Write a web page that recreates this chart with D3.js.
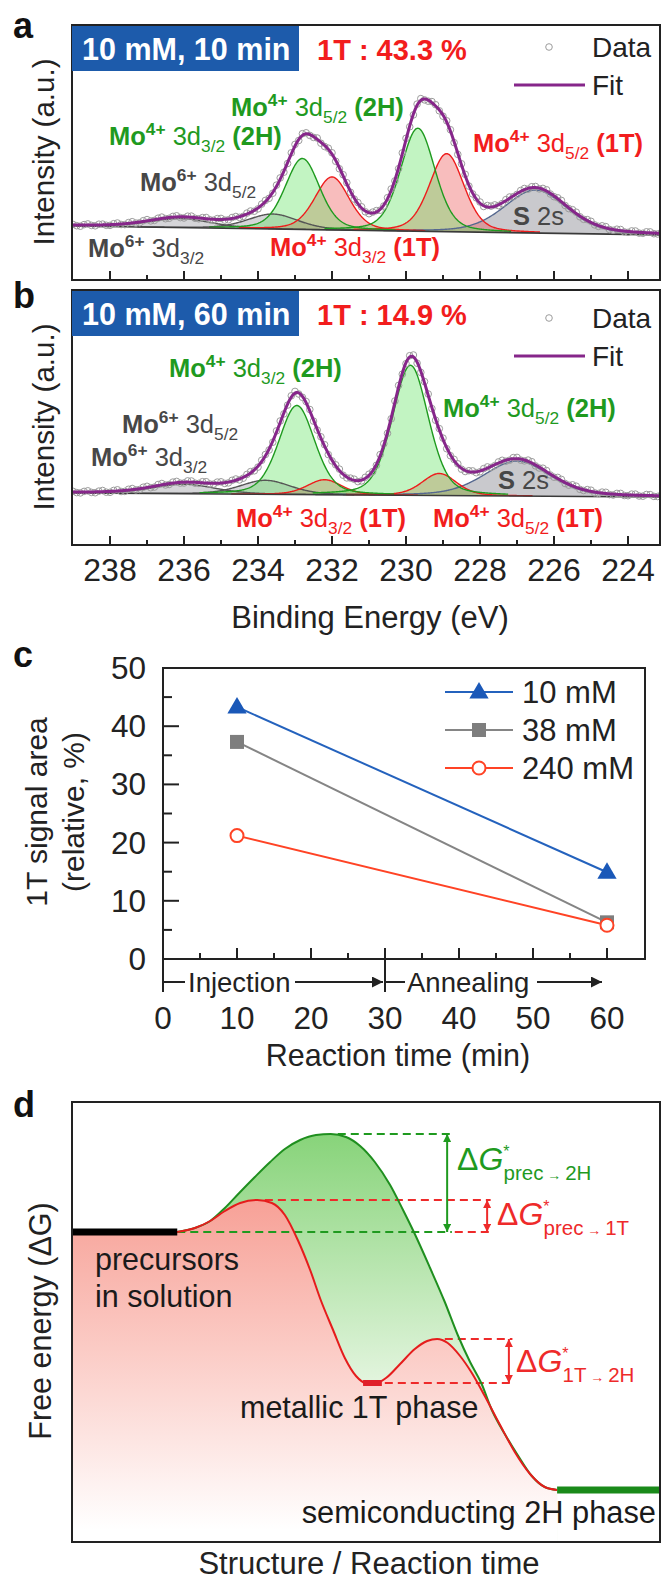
<!DOCTYPE html>
<html>
<head>
<meta charset="utf-8">
<script src="https://cdn.jsdelivr.net/npm/d3@7"></script>
<style>
  body { margin: 0; background: #fff; }
  svg { display: block; }
  text { font-family: "Liberation Sans", Arial, Helvetica, sans-serif; }
</style>
</head>
<body>
<svg id="fig" width="662" height="1580"></svg>
<script>
// ---------- XPS Mo 3d / S 2s spectra (panels a, b) ----------
const energyTicks = [238, 236, 234, 232, 230, 228, 226, 224];
const energyMinorTicks = [237, 235, 233, 231, 229, 227, 225];
const scanStart = 239.0;   // eV, first channel
const scanStep = 0.1;      // eV per channel (decreasing binding energy)

const peakPhase = ["ox", "ox", "2H", "1T", "2H", "1T", "S"];

// 10 mM, 10 min
const peakCenterA = [236.1, 233.6, 232.8, 232.0, 229.68, 228.9, 226.5];
const peakHeightA = [9, 15, 71, 53, 103, 78, 43];
const peakFwhmA   = [2.0, 1.6, 1.1, 1.1, 1.1, 1.1, 2.0];
const backgroundA = [54, 45];          // at 239 eV and 223 eV
const intensityA = [
  55.6,54.3,53.8,55.4,56.1,54.6,54.2,55.8,55.9,54.7,
  54.6,56.3,57.0,55.5,55.4,57.4,58.3,56.9,57.2,59.3,
  60.4,59.1,59.6,61.8,62.9,61.3,61.7,63.6,64.2,62.4,
  62.0,63.8,63.9,61.7,61.2,62.4,62.5,60.2,59.8,61.4,
  61.6,59.9,60.2,62.5,63.5,62.6,63.6,66.9,69.0,68.8,
  71.1,75.9,79.6,81.7,86.8,94.9,102.1,107.8,116.5,127.2,
  135.6,139.5,146.3,147.2,144.6,142.6,142.0,136.8,133.5,131.8,
  127.2,118.7,111.2,105.3,97.3,87.7,80.9,77.4,73.2,68.2,
  66.3,67.9,69.4,69.8,74.0,82.3,91.0,99.1,111.3,127.1,
  141.7,153.2,165.1,175.9,181.4,180.1,178.8,178.4,175.3,169.2,
  163.8,159.2,150.3,137.4,125.6,116.2,105.7,93.9,86.1,82.1,
  78.0,73.5,74.5,73.9,75.1,74.4,76.4,80.4,83.0,83.3,
  85.6,89.5,91.5,90.8,93.3,93.5,91.1,91.6,90.2,86.0,
  83.3,82.2,79.6,74.5,71.4,70.3,67.8,63.2,60.7,60.4,
  58.7,55.1,53.6,54.2,53.4,50.5,49.7,50.8,50.5,48.1,
  47.6,49.1,49.0,46.9,46.7,48.2,48.1,46.3,46.0,47.5,
  47.4];

// 10 mM, 60 min
const peakCenterB = [236.0, 233.8, 232.95, 232.2, 229.88, 229.1, 227.0];
const peakHeightB = [9.5, 14, 89, 15, 130, 22, 35];
const peakFwhmB   = [2.0, 1.6, 1.15, 1.1, 1.15, 1.1, 2.1];
const backgroundB = [52, 48];
const intensityB = [
  53.7,52.4,52.1,53.6,54.2,52.6,52.3,53.9,54.5,52.8,
  52.7,54.6,55.2,53.5,53.6,55.7,56.5,55.1,55.5,57.8,
  58.7,57.3,57.9,60.5,61.5,60.0,60.5,62.9,63.6,61.9,
  62.0,64.1,64.0,61.8,61.6,63.3,63.3,61.0,60.9,62.9,
  63.2,61.6,62.1,64.7,66.0,65.1,66.8,70.6,73.4,74.2,
  77.9,84.7,90.5,95.0,102.8,114.1,124.0,131.1,139.9,149.2,
  153.6,151.0,147.7,143.5,135.5,123.9,114.9,108.2,100.3,90.4,
  84.1,80.2,75.9,69.8,67.1,66.9,65.8,63.4,64.1,67.7,
  70.8,73.4,79.7,90.4,101.3,111.7,126.2,144.0,159.6,170.8,
  181.3,189.3,190.0,181.8,172.6,163.4,151.0,136.4,124.8,116.4,
  106.9,96.3,89.3,85.6,81.2,75.8,73.5,74.3,74.1,72.3,
  73.2,76.4,78.1,77.6,79.4,83.1,84.7,83.8,84.8,87.4,
  87.6,84.9,84.1,84.9,83.3,79.1,77.0,76.8,74.4,70.0,
  67.8,67.6,65.6,61.5,59.8,60.2,58.8,55.6,54.5,55.4,
  54.8,52.1,51.5,52.9,52.7,50.4,50.0,51.6,51.6,49.5,
  49.3,50.9,50.9,49.0,48.8,50.5,50.4,48.6,48.5,50.1,
  50.0];

// ---------- panel c ----------
const reactionTime = [10, 60];
const seriesNames = ["10 mM", "38 mM", "240 mM"];
const area10mM  = [43.3, 14.9];
const area38mM  = [37.3, 6.3];
const area240mM = [21.2, 5.8];
const timeTicks = [0, 10, 20, 30, 40, 50, 60];
const areaTicks = [0, 10, 20, 30, 40, 50];

// ---------- panel d : free-energy profile (reaction coordinate, ΔG) ----------
const coord1T = [17.86,20.9,23.5,26.0,28.6,31.5,34.0,36.2,38.4,40.5,42.3,44.4,46.4,48.3,50.0,51.7,53.4,55.8,58.3,60.4,62.1,63.9,66.0,68.0,70.2,72.8,75.3,77.9,80.4,82.5];
const energy1T = [0,0.04,0.11,0.21,0.29,0.32,0.29,0.17,-0.08,-0.38,-0.68,-0.98,-1.26,-1.44,-1.51,-1.51,-1.46,-1.32,-1.17,-1.09,-1.07,-1.11,-1.24,-1.41,-1.64,-1.93,-2.20,-2.42,-2.55,-2.58];
const coord2H = [17.86,20.9,23.5,26.0,28.6,31.1,33.7,36.2,38.8,41.5,44.0,46.6,49.0,51.5,54.1,56.3,58.3,60.9,63.4,65.6,67.7,69.6,71.4,73.6,75.9,78.2,80.4,82.5];
const energy2H = [0,0.04,0.11,0.24,0.40,0.55,0.70,0.83,0.92,0.97,0.98,0.95,0.86,0.70,0.47,0.22,-0.02,-0.36,-0.70,-1.03,-1.30,-1.51,-1.78,-2.02,-2.24,-2.44,-2.55,-2.58];
const levelPrecursor = 0, levelTS2H = 0.98, levelTS1T = 0.32, level1T = -1.51, levelTS1T2H = -1.07, level2H = -2.58;

const svg = d3.select("#fig");
const defs = svg.append("defs");
const INK = "#222";

function panelLetter(ch, x, y) {
  svg.append("text").attr("x", x).attr("y", y).attr("font-size", 36)
    .attr("font-weight", "bold").attr("fill", "#111").text(ch);
}

// text made of runs: b = bold, r = regular, sup/bsup = superscript, sub = subscript
function richText(g, x, y, runs, color, size) {
  const t = g.append("text").attr("x", x).attr("y", y).attr("fill", color).attr("font-size", size);
  let shift = 0;
  runs.forEach(([s, kind]) => {
    const sp = t.append("tspan").text(s);
    let target = 0;
    if (kind === "sup" || kind === "bsup") { target = -Math.round(size * 0.4); sp.attr("font-size", size * 0.68); }
    if (kind === "sub") { target = Math.round(size * 0.28); sp.attr("font-size", size * 0.68); }
    if (kind === "b" || kind === "bsup") sp.attr("font-weight", "bold");
    if (target !== shift) { sp.attr("dy", target - shift); shift = target; }
  });
  return t;
}

const phaseStyle = {
  ox: { fill: "rgba(105,105,115,0.28)", stroke: "#555" },
  S:  { fill: "rgba(135,135,145,0.45)", stroke: "#56688f" },
  "1T": { fill: "rgba(238,90,90,0.40)", stroke: "#ee1c1c" },
  "2H": { fill: "rgba(95,225,95,0.38)", stroke: "#1f9a1f" }
};

function pseudoVoigt(E, c, h, w) {
  const d = E - c, s = w / 2.3548;
  return h * (0.7 * Math.exp(-d * d / (2 * s * s)) + 0.3 / (1 + 4 * d * d / (w * w)));
}

function xpsPanel(cfg) {
  const { id, top, bottom, centers, heights, fwhms, bg, counts } = cfg;
  const left = 72, right = 660;
  const x = d3.scaleLinear().domain([239, 223]).range([73, 665]);
  const y = d3.scaleLinear().domain([0, 255]).range([bottom, top]);
  const g = svg.append("g");
  defs.append("clipPath").attr("id", "clip" + id).append("rect")
    .attr("x", left).attr("y", top).attr("width", right - left).attr("height", bottom - top);
  const plot = g.append("g").attr("clip-path", `url(#clip${id})`);
  const bgAt = E => bg[0] + (bg[1] - bg[0]) * (239 - E) / 16;
  const grid = d3.range(0, 801).map(i => 239 - i * 0.02);

  const order = ["ox", "S", "1T", "2H"];
  const comps = centers.map((c, i) => ({ c, h: heights[i], w: fwhms[i], phase: peakPhase[i] }))
    .sort((a, b) => order.indexOf(a.phase) - order.indexOf(b.phase));
  const area = d3.area().x(d => x(d.E)).y0(d => y(bgAt(d.E))).y1(d => y(bgAt(d.E) + d.v));
  const line = d3.line().x(d => x(d.E)).y(d => y(bgAt(d.E) + d.v));
  comps.forEach(p => {
    const pts = grid.filter(E => Math.abs(E - p.c) <= 2.3 * p.w).map(E => ({ E, v: pseudoVoigt(E, p.c, p.h, p.w) }));
    p.pts = pts;
    plot.append("path").attr("d", area(pts)).attr("fill", phaseStyle[p.phase].fill);
  });
  comps.forEach(p => {
    plot.append("path").attr("d", line(p.pts)).attr("fill", "none")
      .attr("stroke", phaseStyle[p.phase].stroke).attr("stroke-width", 1.4);
  });
  // background
  plot.append("line").attr("x1", x(239)).attr("x2", x(223)).attr("y1", y(bg[0])).attr("y2", y(bg[1]))
    .attr("stroke", "#3a3a3a").attr("stroke-width", 1.6);
  // measured points
  plot.selectAll("circle.pt").data(counts).join("circle").attr("class", "pt")
    .attr("cx", (d, i) => x(scanStart - i * scanStep)).attr("cy", d => y(d))
    .attr("r", 3.3).attr("fill", "none").attr("stroke", "#9c9c9c").attr("stroke-width", 1);
  // envelope
  const fit = grid.map(E => ({ E, v: d3.sum(comps, p => pseudoVoigt(E, p.c, p.h, p.w)) }));
  plot.append("path").attr("d", line(fit)).attr("fill", "none")
    .attr("stroke", "#86268a").attr("stroke-width", 3);

  // frame
  g.append("rect").attr("x", left).attr("y", top).attr("width", right - left).attr("height", bottom - top)
    .attr("fill", "none").attr("stroke", INK).attr("stroke-width", 2);
  energyTicks.forEach(E => g.append("line").attr("x1", x(E)).attr("x2", x(E))
    .attr("y1", bottom).attr("y2", bottom - 9).attr("stroke", INK).attr("stroke-width", 2));
  energyMinorTicks.forEach(E => g.append("line").attr("x1", x(E)).attr("x2", x(E))
    .attr("y1", bottom).attr("y2", bottom - 5).attr("stroke", INK).attr("stroke-width", 2));
  return { g, x, y };
}

// ---------- panel a ----------
const pa = xpsPanel({ id: "a", top: 25, bottom: 280, centers: peakCenterA, heights: peakHeightA,
  fwhms: peakFwhmA, bg: backgroundA, counts: intensityA });
// ---------- panel b ----------
const pb = xpsPanel({ id: "b", top: 290, bottom: 545, centers: peakCenterB, heights: peakHeightB,
  fwhms: peakFwhmB, bg: backgroundB, counts: intensityB });

function panelHeader(p, top, caption, share, legendY) {
  p.g.append("rect").attr("x", 72).attr("y", top + 1).attr("width", 227).attr("height", 45).attr("fill", "#1d5bab");
  p.g.append("text").attr("x", 82).attr("y", top + 35).attr("font-size", 30.5).attr("font-weight", "bold")
    .attr("fill", "#fff").text(caption);
  p.g.append("text").attr("x", 317).attr("y", top + 35).attr("font-size", 29).attr("font-weight", "bold")
    .attr("fill", "#f21d1d").text(share);
  p.g.append("circle").attr("cx", 549).attr("cy", top + legendY[0]).attr("r", 3.3)
    .attr("fill", "none").attr("stroke", "#9c9c9c").attr("stroke-width", 1);
  p.g.append("text").attr("x", 592).attr("y", top + legendY[0] + 10).attr("font-size", 28).attr("fill", INK).text("Data");
  p.g.append("line").attr("x1", 514).attr("x2", 585).attr("y1", top + legendY[1]).attr("y2", top + legendY[1])
    .attr("stroke", "#86268a").attr("stroke-width", 3);
  p.g.append("text").attr("x", 592).attr("y", top + legendY[1] + 10).attr("font-size", 28).attr("fill", INK).text("Fit");
}
panelHeader(pa, 25, "10 mM, 10 min", "1T : 43.3 %", [22, 60]);
panelHeader(pb, 290, "10 mM, 60 min", "1T : 14.9 %", [28, 66]);

const GREEN = "#1f9a1f", RED = "#f21d1d", GREY = "#474747";
const mo4 = (sub, ph) => [["Mo", "b"], ["4+", "bsup"], [" 3d", "r"], [sub, "sub"], [" (" + ph + ")", "b"]];
const mo6 = sub => [["Mo", "b"], ["6+", "bsup"], [" 3d", "r"], [sub, "sub"]];
const s2s = [["S", "b"], [" 2s", "r"]];
const LBL = 25.5;

richText(pa.g, 231, 116, mo4("5/2", "2H"), GREEN, LBL);
richText(pa.g, 109, 145, mo4("3/2", "2H"), GREEN, LBL);
richText(pa.g, 140, 191, mo6("5/2"), GREY, LBL);
richText(pa.g, 88, 257, mo6("3/2"), GREY, LBL);
richText(pa.g, 270, 256, mo4("3/2", "1T"), RED, LBL);
richText(pa.g, 473, 152, mo4("5/2", "1T"), RED, LBL);
richText(pa.g, 513, 225, s2s, GREY, LBL);

richText(pb.g, 169, 377, mo4("3/2", "2H"), GREEN, LBL);
richText(pb.g, 443, 417, mo4("5/2", "2H"), GREEN, LBL);
richText(pb.g, 122, 433, mo6("5/2"), GREY, LBL);
richText(pb.g, 91, 466, mo6("3/2"), GREY, LBL);
richText(pb.g, 236, 527, mo4("3/2", "1T"), RED, LBL);
richText(pb.g, 433, 527, mo4("5/2", "1T"), RED, LBL);
richText(pb.g, 498, 489, s2s, GREY, LBL);

energyTicks.forEach(E => svg.append("text").attr("x", pb.x(E)).attr("y", 581).attr("text-anchor", "middle")
  .attr("font-size", 32).attr("fill", INK).text(E));
svg.append("text").attr("x", 370).attr("y", 628).attr("text-anchor", "middle").attr("font-size", 31)
  .attr("fill", INK).text("Binding Energy (eV)");
[[152], [417]].forEach(([cy]) => svg.append("text").attr("transform", `translate(54,${cy}) rotate(-90)`)
  .attr("text-anchor", "middle").attr("font-size", 29.5).attr("fill", INK).text("Intensity (a.u.)"));
panelLetter("a", 13, 38);
panelLetter("b", 13, 308);

// ---------- panel c ----------
{
  const L = 163, R = 645, T = 668, B = 959;
  const x = d3.scaleLinear().domain([0, 65]).range([L, 644]);
  const y = d3.scaleLinear().domain([0, 50]).range([B, T]);
  const g = svg.append("g");
  g.append("rect").attr("x", L).attr("y", T).attr("width", R - L).attr("height", B - T)
    .attr("fill", "none").attr("stroke", INK).attr("stroke-width", 2);
  areaTicks.forEach(v => {
    g.append("line").attr("x1", L).attr("x2", L + 16).attr("y1", y(v)).attr("y2", y(v)).attr("stroke", INK).attr("stroke-width", 2);
    g.append("text").attr("x", 146).attr("y", y(v) + 11).attr("text-anchor", "end").attr("font-size", 31.5).attr("fill", INK).text(v);
  });
  [5, 15, 25, 35, 45].forEach(v => g.append("line").attr("x1", L).attr("x2", L + 9).attr("y1", y(v)).attr("y2", y(v))
    .attr("stroke", INK).attr("stroke-width", 2));
  timeTicks.forEach(v => {
    if (v > 0) g.append("line").attr("x1", x(v)).attr("x2", x(v)).attr("y1", B).attr("y2", B - 11).attr("stroke", INK).attr("stroke-width", 2);
    g.append("text").attr("x", x(v)).attr("y", 1029).attr("text-anchor", "middle").attr("font-size", 31.5).attr("fill", INK).text(v);
  });
  [5, 15, 25, 35, 45, 55].forEach(v => g.append("line").attr("x1", x(v)).attr("x2", x(v)).attr("y1", B).attr("y2", B - 6)
    .attr("stroke", INK).attr("stroke-width", 2));

  // stage brackets under the axis
  defs.append("marker").attr("id", "headBlack").attr("viewBox", "0 0 10 10").attr("refX", 10).attr("refY", 5)
    .attr("markerWidth", 15).attr("markerHeight", 11).attr("markerUnits", "userSpaceOnUse").attr("orient", "auto")
    .append("path").attr("d", "M0,0 L10,5 L0,10 Z").attr("fill", INK);
  const yb = 982;
  g.append("line").attr("x1", x(0)).attr("x2", x(0)).attr("y1", B).attr("y2", 992).attr("stroke", INK).attr("stroke-width", 2);
  g.append("line").attr("x1", x(30)).attr("x2", x(30)).attr("y1", B - 11).attr("y2", 992).attr("stroke", INK).attr("stroke-width", 2);
  g.append("line").attr("x1", x(0)).attr("x2", x(0) + 22).attr("y1", yb).attr("y2", yb).attr("stroke", INK).attr("stroke-width", 2);
  g.append("text").attr("x", 188).attr("y", yb + 10).attr("font-size", 27.5).attr("fill", INK).text("Injection");
  g.append("line").attr("x1", 295).attr("x2", x(30) - 2).attr("y1", yb).attr("y2", yb).attr("stroke", INK)
    .attr("stroke-width", 2).attr("marker-end", "url(#headBlack)");
  g.append("line").attr("x1", x(30)).attr("x2", x(30) + 20).attr("y1", yb).attr("y2", yb).attr("stroke", INK).attr("stroke-width", 2);
  g.append("text").attr("x", 407).attr("y", yb + 10).attr("font-size", 27.5).attr("fill", INK).text("Annealing");
  g.append("line").attr("x1", 537).attr("x2", 602).attr("y1", yb).attr("y2", yb).attr("stroke", INK)
    .attr("stroke-width", 2).attr("marker-end", "url(#headBlack)");

  const series = [
    { name: seriesNames[0], vals: area10mM, color: "#2462bd", mark: "tri" },
    { name: seriesNames[1], vals: area38mM, color: "#858585", mark: "sq" },
    { name: seriesNames[2], vals: area240mM, color: "#ff4325", mark: "circ" }
  ];
  const marker = (sel, s, cx, cy) => {
    if (s.mark === "tri") sel.append("path").attr("d", d3.symbol(d3.symbolTriangle, 160)()).attr("transform", `translate(${cx},${cy + 1})`).attr("fill", "#1a58b8");
    if (s.mark === "sq") sel.append("rect").attr("x", cx - 7).attr("y", cy - 7).attr("width", 14).attr("height", 14).attr("fill", "#7e7e7e");
    if (s.mark === "circ") sel.append("circle").attr("cx", cx).attr("cy", cy).attr("r", 6.5).attr("fill", "#fff").attr("stroke", s.color).attr("stroke-width", 2);
  };
  series.forEach(s => {
    g.append("path").attr("d", d3.line().x((d, i) => x(reactionTime[i])).y(d => y(d))(s.vals))
      .attr("fill", "none").attr("stroke", s.color).attr("stroke-width", 2);
  });
  [1, 2, 0].forEach(k => series[k].vals.forEach((v, i) => marker(g, series[k], x(reactionTime[i]), y(v))));
  series.forEach((s, k) => {
    const ly = 692 + k * 38;
    g.append("line").attr("x1", 445).attr("x2", 513).attr("y1", ly).attr("y2", ly).attr("stroke", s.color).attr("stroke-width", 2);
    marker(g, s, 479, ly);
    g.append("text").attr("x", 522).attr("y", ly + 11).attr("font-size", 31).attr("fill", INK).text(s.name);
  });
  g.append("text").attr("x", 398).attr("y", 1066).attr("text-anchor", "middle").attr("font-size", 30.5).attr("fill", INK).text("Reaction time (min)");
  g.append("text").attr("transform", "translate(47,812) rotate(-90)").attr("text-anchor", "middle").attr("font-size", 30).attr("fill", INK).text("1T signal area");
  g.append("text").attr("transform", "translate(84,812) rotate(-90)").attr("text-anchor", "middle").attr("font-size", 30).attr("fill", INK).text("(relative, %)");
  panelLetter("c", 13, 667);
}

// ---------- panel d ----------
{
  const L = 72, R = 660, T = 1102, B = 1542;
  const x = d3.scaleLinear().domain([0, 100]).range([L, R]);
  const y = d3.scaleLinear().domain([-3.1, 1.3]).range([B, T]);
  const g = svg.append("g");
  const pink = defs.append("linearGradient").attr("id", "pinkFade").attr("gradientUnits", "userSpaceOnUse")
    .attr("x1", 0).attr("x2", 0).attr("y1", 1200).attr("y2", 1530);
  pink.append("stop").attr("offset", 0).attr("stop-color", "#f7a197");
  pink.append("stop").attr("offset", 0.45).attr("stop-color", "#fbcbc5");
  pink.append("stop").attr("offset", 1).attr("stop-color", "#ffffff");
  const green = defs.append("linearGradient").attr("id", "greenFade").attr("gradientUnits", "userSpaceOnUse")
    .attr("x1", 0).attr("x2", 0).attr("y1", 1130).attr("y2", 1400);
  green.append("stop").attr("offset", 0).attr("stop-color", "#86d378");
  green.append("stop").attr("offset", 1).attr("stop-color", "#e9f7e5");

  const pts1T = coord1T.map((c, i) => ({ c, G: energy1T[i] }));
  const pts2H = coord2H.map((c, i) => ({ c, G: energy2H[i] }));
  const curve = d3.line().x(d => x(d.c)).y(d => y(d.G)).curve(d3.curveMonotoneX);
  const under = d3.area().x(d => x(d.c)).y0(B).y1(d => y(d.G)).curve(d3.curveMonotoneX);
  const flatStart = [{ c: 0, G: levelPrecursor }];

  g.append("path").attr("d", under(pts2H)).attr("fill", "url(#greenFade)");
  g.append("path").attr("d", under(flatStart.concat(pts1T))).attr("fill", "url(#pinkFade)");

  // dashed reference levels
  const dash = (c0, c1, G, color) => g.append("line").attr("x1", x(c0)).attr("x2", x(c1)).attr("y1", y(G)).attr("y2", y(G))
    .attr("stroke", color).attr("stroke-width", 2).attr("stroke-dasharray", "8,5");
  const DG = "#1f9a1f", DR = "#ee2a2a";
  dash(45.2, 64.6, levelTS2H, DG);
  dash(17.9, 64.6, levelPrecursor, DG);
  dash(65.1, 71.2, levelPrecursor, DR);
  dash(32.8, 71.2, levelTS1T, DR);
  dash(63.4, 74.9, levelTS1T2H, DR);
  dash(53.2, 74.9, level1T, DR);

  g.append("path").attr("d", curve(pts2H)).attr("fill", "none").attr("stroke", "#1f8f1f").attr("stroke-width", 2);
  g.append("path").attr("d", curve(pts1T)).attr("fill", "none").attr("stroke", "#e51c1c").attr("stroke-width", 2);

  // phase levels
  g.append("line").attr("x1", x(0)).attr("x2", x(17.9)).attr("y1", y(levelPrecursor)).attr("y2", y(levelPrecursor)).attr("stroke", "#000").attr("stroke-width", 7);
  g.append("line").attr("x1", x(49.5)).attr("x2", x(52.7)).attr("y1", y(level1T)).attr("y2", y(level1T)).attr("stroke", "#e0202a").attr("stroke-width", 6);
  g.append("line").attr("x1", x(82.5)).attr("x2", x(100)).attr("y1", y(level2H)).attr("y2", y(level2H)).attr("stroke", "#1a8a1a").attr("stroke-width", 7);

  // barrier arrows
  [["hG", DG], ["hR", DR]].forEach(([id, col]) => defs.append("marker").attr("id", id).attr("viewBox", "0 0 10 10")
    .attr("refX", 10).attr("refY", 5).attr("markerWidth", 9).attr("markerHeight", 8).attr("markerUnits", "userSpaceOnUse")
    .attr("orient", "auto-start-reverse").append("path").attr("d", "M0,0 L10,5 L0,10 Z").attr("fill", col));
  const vArrow = (c, G0, G1, col, id) => g.append("line").attr("x1", x(c)).attr("x2", x(c)).attr("y1", y(G0)).attr("y2", y(G1))
    .attr("stroke", col).attr("stroke-width", 2).attr("marker-start", `url(#${id})`).attr("marker-end", `url(#${id})`);
  vArrow(63.8, levelTS2H, levelPrecursor, DG, "hG");
  vArrow(70.6, levelTS1T, levelPrecursor, DR, "hR");
  vArrow(74.3, levelTS1T2H, level1T, DR, "hR");

  const deltaG = (px, py, sub1, sub2, col) => {
    const t = g.append("text").attr("x", px).attr("y", py).attr("fill", col).attr("font-size", 32);
    t.append("tspan").text("Δ");
    t.append("tspan").attr("font-style", "italic").text("G");
    t.append("tspan").attr("dy", -13).attr("font-size", 16).text("*");
    t.append("tspan").attr("dx", -6).attr("dy", 23).attr("font-size", 20.5).text(sub1);
    t.append("tspan").attr("font-size", 14).text(" → ");
    t.append("tspan").attr("font-size", 20.5).text(sub2);
  };
  deltaG(457, 1170, "prec", "2H", "#1f9a1f");
  deltaG(497, 1225, "prec", "1T", "#ee2a2a");
  deltaG(516, 1372, "1T", "2H", "#ee2a2a");

  g.append("text").attr("x", 95).attr("y", 1270).attr("font-size", 30.5).attr("fill", "#1a1a1a").text("precursors");
  g.append("text").attr("x", 95).attr("y", 1307).attr("font-size", 30.5).attr("fill", "#1a1a1a").text("in solution");
  g.append("text").attr("x", 240).attr("y", 1418).attr("font-size", 30.5).attr("fill", "#1a1a1a").text("metallic 1T phase");
  g.append("text").attr("x", 656).attr("y", 1523).attr("text-anchor", "end").attr("font-size", 30.8).attr("fill", "#1a1a1a").text("semiconducting 2H phase");

  g.append("rect").attr("x", L).attr("y", T).attr("width", R - L).attr("height", B - T)
    .attr("fill", "none").attr("stroke", INK).attr("stroke-width", 2);
  g.append("text").attr("x", 369).attr("y", 1574).attr("text-anchor", "middle").attr("font-size", 31).attr("fill", INK).text("Structure / Reaction time");
  g.append("text").attr("transform", "translate(51,1321) rotate(-90)").attr("text-anchor", "middle").attr("font-size", 30.5).attr("fill", INK).text("Free energy (ΔG)");
  panelLetter("d", 13, 1117);
}
</script>
</body>
</html>
